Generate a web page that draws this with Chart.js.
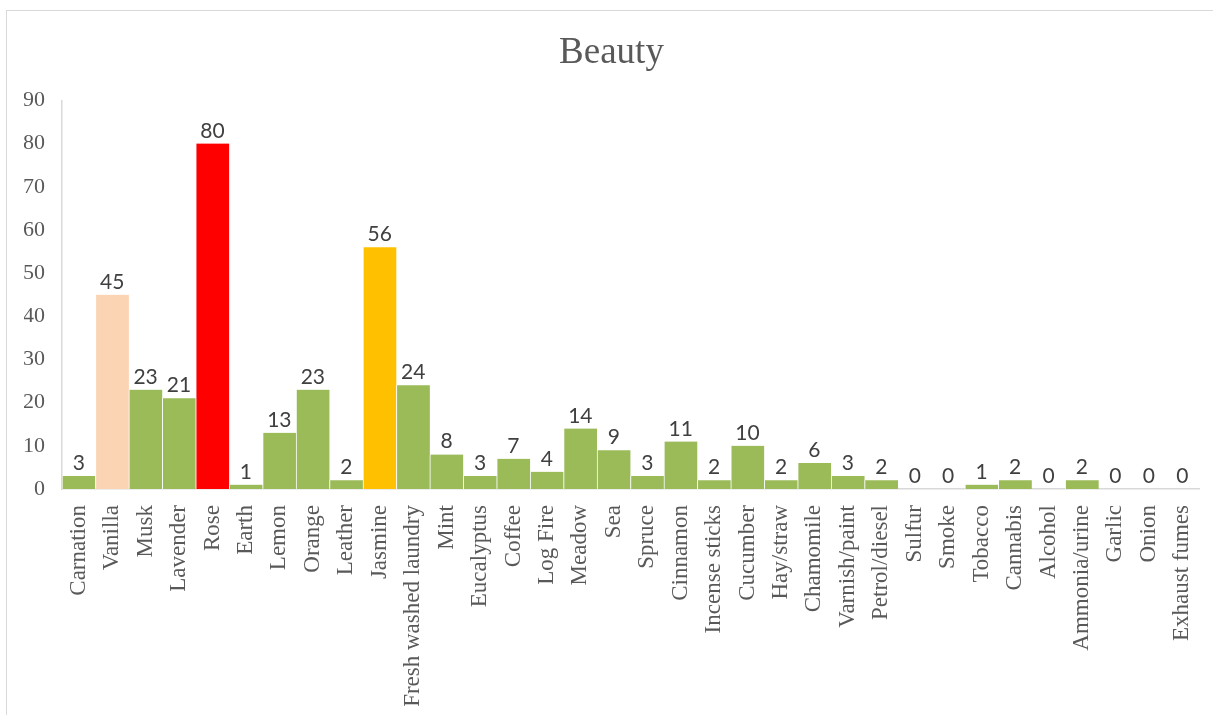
<!DOCTYPE html>
<html>
<head>
<meta charset="utf-8">
<title>Beauty</title>
<script src="https://cdn.jsdelivr.net/npm/chart.js@4/dist/chart.umd.min.js"></script>
<style>
  html, body { margin: 0; padding: 0; background: #ffffff; }
  body { width: 1213px; height: 715px; position: relative; overflow: hidden; }
  #frame {
    position: absolute; left: 6px; top: 10px; right: -4px; bottom: -4px;
    border-left: 1.5px solid #d9d9d9; border-top: 1.5px solid #d9d9d9;
  }
  #chart { position: absolute; left: 0; top: 0; }
</style>
</head>
<body>
<div id="frame"></div>
<canvas id="chart" width="1213" height="715"></canvas>
<script>
// Scent categories and how many respondents linked each one with beauty
const categories = [
  'Carnation', 'Vanilla', 'Musk', 'Lavender', 'Rose', 'Earth', 'Lemon', 'Orange',
  'Leather', 'Jasmine', 'Fresh washed laundry', 'Mint', 'Eucalyptus', 'Coffee',
  'Log Fire', 'Meadow', 'Sea', 'Spruce', 'Cinnamon', 'Incense sticks', 'Cucumber',
  'Hay/straw', 'Chamomile', 'Varnish/paint', 'Petrol/diesel', 'Sulfur', 'Smoke',
  'Tobacco', 'Cannabis', 'Alcohol', 'Ammonia/urine', 'Garlic', 'Onion', 'Exhaust fumes'
];
const counts = [
  3, 45, 23, 21, 80, 1, 13, 23,
  2, 56, 24, 8, 3, 7,
  4, 14, 9, 3, 11, 2, 10,
  2, 6, 3, 2, 0, 0,
  1, 2, 0, 2, 0, 0, 0
];
const yTicks = [0, 10, 20, 30, 40, 50, 60, 70, 80, 90];

// Default bar colour plus the three highlighted scents
const baseColor = '#9bbb59';
const highlightColors = { 'Vanilla': '#fbd4b4', 'Rose': '#ff0000', 'Jasmine': '#ffc000' };
const barColors = categories.map(c => highlightColors[c] || baseColor);

// Writes each bar's value just above it
const valueLabels = {
  id: 'valueLabels',
  afterDatasetsDraw(chart) {
    const ctx = chart.ctx;
    const meta = chart.getDatasetMeta(0);
    const data = chart.data.datasets[0].data;
    ctx.save();
    ctx.font = '21px Lato, "Open Sans", sans-serif';
    ctx.fillStyle = '#404040';
    ctx.textAlign = 'center';
    ctx.textBaseline = 'alphabetic';
    meta.data.forEach((bar, i) => {
      ctx.fillText(String(data[i]), bar.x, bar.y - 6);
    });
    ctx.restore();
  }
};

new Chart(document.getElementById('chart'), {
  type: 'bar',
  data: {
    labels: categories,
    datasets: [{
      data: counts,
      backgroundColor: barColors,
      borderColor: 'rgba(255,255,255,0.75)',
      borderWidth: { left: 1, right: 0, top: 0, bottom: 0 },
      borderSkipped: false,
      categoryPercentage: 1.0,
      barPercentage: 1.0
    }]
  },
  options: {
    responsive: false,
    animation: false,
    layout: { padding: { left: 24, right: 14, top: 0, bottom: 0 } },
    plugins: {
      legend: { display: false },
      tooltip: { enabled: false },
      title: {
        display: true,
        text: 'Beauty',
        color: '#595959',
        font: { family: '"Liberation Serif", "Times New Roman", serif', size: 37, weight: 'normal' },
        padding: { top: 31, bottom: 25 }
      }
    },
    scales: {
      x: {
        grid: { display: false, drawTicks: false },
        border: { display: true, color: '#d9d9d9', width: 1.5 },
        ticks: {
          autoSkip: false,
          maxRotation: 90,
          minRotation: 90,
          padding: 16,
          color: '#595959',
          font: { family: '"Liberation Serif", "Times New Roman", serif', size: 23 }
        },
        afterFit(scale) {
          scale.height = 226;
          scale.paddingLeft = 0;
          scale.paddingRight = 0;
        }
      },
      y: {
        min: 0,
        max: 90,
        afterBuildTicks(scale) { scale.ticks = yTicks.map(v => ({ value: v })); },
        grid: { display: false, drawTicks: false },
        border: { display: true, color: '#d9d9d9', width: 1.5 },
        ticks: {
          padding: 17,
          color: '#595959',
          font: { family: '"Liberation Serif", "Times New Roman", serif', size: 22 }
        },
        afterFit(scale) { scale.width = 38; }
      }
    }
  },
  plugins: [valueLabels]
});
</script>
</body>
</html>
